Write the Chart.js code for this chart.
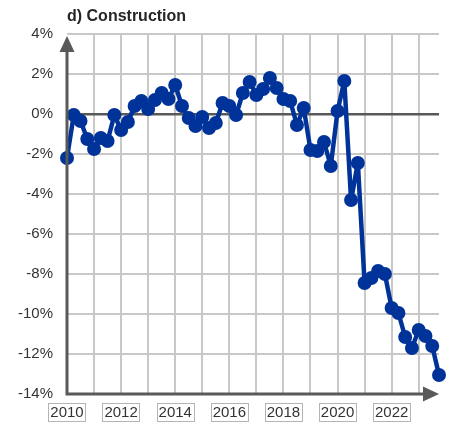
<!DOCTYPE html>
<html>
<head>
<meta charset="utf-8">
<script src="https://cdn.jsdelivr.net/npm/chart.js@4/dist/chart.umd.min.js"></script>
<style>
html,body{margin:0;padding:0;background:#fff;}
#wrap{width:449px;height:426px;}
</style>
</head>
<body>
<div id="wrap"><canvas id="c" width="449" height="426"></canvas></div>
<script>
const title = 'd) Construction';
const quarters = [
 '2010Q1','2010Q2','2010Q3','2010Q4','2011Q1','2011Q2','2011Q3','2011Q4',
 '2012Q1','2012Q2','2012Q3','2012Q4','2013Q1','2013Q2','2013Q3','2013Q4',
 '2014Q1','2014Q2','2014Q3','2014Q4','2015Q1','2015Q2','2015Q3','2015Q4',
 '2016Q1','2016Q2','2016Q3','2016Q4','2017Q1','2017Q2','2017Q3','2017Q4',
 '2018Q1','2018Q2','2018Q3','2018Q4','2019Q1','2019Q2','2019Q3','2019Q4',
 '2020Q1','2020Q2','2020Q3','2020Q4','2021Q1','2021Q2','2021Q3','2021Q4',
 '2022Q1','2022Q2','2022Q3','2022Q4','2023Q1','2023Q2','2023Q3','2023Q4'
];
const construction = [
 -2.2, -0.05, -0.35, -1.25,
 -1.75, -1.2, -1.35, -0.05,
 -0.8, -0.4, 0.4, 0.65,
 0.25, 0.7, 1.05, 0.75,
 1.45, 0.4, -0.2, -0.6,
 -0.15, -0.7, -0.45, 0.55,
 0.4, -0.05, 1.05, 1.6,
 0.95, 1.25, 1.8, 1.3,
 0.75, 0.65, -0.55, 0.3,
 -1.8, -1.85, -1.4, -2.6,
 0.15, 1.65, -4.3, -2.45,
 -8.45, -8.2, -7.85, -8.0,
 -9.7, -9.95, -11.15, -11.7,
 -10.8, -11.1, -11.6, -13.05
];
const yMin = -14, yMax = 4, yStep = 2;
const xTickLabels = ['2010','2012','2014','2016','2018','2020','2022'];

const blue = '#003399';
const axisCol = '#595959';
const gridCol = '#c8c8c8';
const font = "'Liberation Sans', Arial, sans-serif";

const extras = {
  id: 'extras',
  afterDraw(chart) {
    const ctx = chart.ctx;
    const a = chart.chartArea;
    const xs = chart.scales.x;
    ctx.save();
    // title
    ctx.fillStyle = '#262626';
    ctx.font = 'bold 16px ' + font;
    ctx.textBaseline = 'alphabetic';
    ctx.textAlign = 'left';
    ctx.fillText(title, 67, 21);
    // axes
    ctx.strokeStyle = axisCol;
    ctx.lineWidth = 3;
    ctx.beginPath();
    ctx.moveTo(a.left, a.bottom);
    ctx.lineTo(a.left, a.top + 6);
    ctx.moveTo(a.left - 1.5, a.bottom);
    ctx.lineTo(a.right - 4, a.bottom);
    ctx.stroke();
    ctx.fillStyle = axisCol;
    // y arrow
    ctx.beginPath();
    ctx.moveTo(a.left, a.top + 2);
    ctx.lineTo(a.left - 7.5, a.top + 18);
    ctx.lineTo(a.left + 7.5, a.top + 18);
    ctx.closePath();
    ctx.fill();
    // x arrow
    ctx.beginPath();
    ctx.moveTo(a.right, a.bottom);
    ctx.lineTo(a.right - 16, a.bottom - 7.5);
    ctx.lineTo(a.right - 16, a.bottom + 7.5);
    ctx.closePath();
    ctx.fill();
    // label boxes
    ctx.font = '15px ' + font;
    ctx.strokeStyle = '#b4b4b4';
    ctx.lineWidth = 1;
    chart.data.labels.forEach((q, i) => {
      const yr = q.slice(0, 4);
      if (q.endsWith('Q1') && xTickLabels.includes(yr)) {
        const px = xs.getPixelForValue(i);
        const w = ctx.measureText(yr).width;
        ctx.strokeRect(Math.round(px - w / 2 - 2) + 0.5, a.bottom + 9.5, Math.round(w + 4), 18);
      }
    });
    ctx.restore();
  }
};

new Chart(document.getElementById('c'), {
  type: 'line',
  data: {
    labels: quarters,
    datasets: [{
      data: construction,
      borderColor: blue,
      backgroundColor: blue,
      borderWidth: 4.5,
      borderJoinStyle: 'round',
      borderCapStyle: 'round',
      pointRadius: 7,
      pointBorderWidth: 0,
      pointBackgroundColor: blue,
      tension: 0,
      clip: false
    }]
  },
  options: {
    responsive: false,
    animation: false,
    devicePixelRatio: 1,
    layout: { padding: { top: 34, right: 8, left: 0, bottom: 0 } },
    plugins: { legend: { display: false }, tooltip: { enabled: false }, title: { display: false } },
    scales: {
      x: {
        type: 'category',
        offset: false,
        border: { display: false },
        grid: {
          drawTicks: false,
          color: (c) => (c.index % 4 === 0 && c.index > 0) ? gridCol : 'rgba(0,0,0,0)',
          lineWidth: 2
        },
        ticks: {
          autoSkip: false,
          maxRotation: 0,
          padding: 10,
          color: '#333',
          font: { family: font, size: 15 },
          callback: function (v, i) {
            const q = quarters[i];
            const yr = q.slice(0, 4);
            return (q.endsWith('Q1') && xTickLabels.includes(yr)) ? yr : '';
          }
        },
        afterFit: (s) => { s.height = 32; }
      },
      y: {
        min: yMin, max: yMax,
        border: { display: false },
        grid: {
          drawTicks: false,
          color: (c) => c.tick.value === 0 ? axisCol : (c.tick.value === yMin ? 'rgba(0,0,0,0)' : gridCol),
          lineWidth: (c) => c.tick.value === 0 ? 2.5 : 2
        },
        ticks: {
          stepSize: yStep,
          padding: 14,
          color: '#333',
          font: { family: font, size: 15 },
          callback: (v) => v + '%'
        },
        afterFit: (s) => { s.width = 67; }
      }
    }
  },
  plugins: [extras]
});
</script>
</body>
</html>
